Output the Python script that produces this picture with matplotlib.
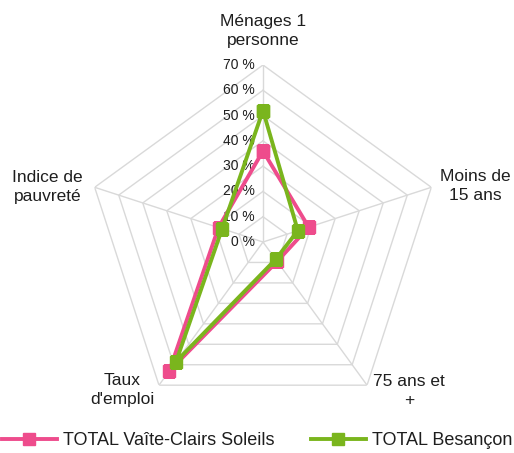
import numpy as np
import matplotlib.pyplot as plt

plt.rcParams["font.family"] = ["Liberation Sans", "DejaVu Sans"]

# Indicators on each spoke, clockwise from the top
categories = ["Ménages 1\npersonne", "Moins de\n15 ans", "75 ans et\n+",
              "Taux\nd'emploi", "Indice de\npauvreté"]
vaite = [36, 19, 9.5, 63, 18.5]      # TOTAL Vaîte-Clairs Soleils (%)
besancon = [52, 14.5, 8.5, 58.5, 17]  # TOTAL Besançon (%)
rings = [0, 10, 20, 30, 40, 50, 60, 70]

pink = "#EE4C8C"
green = "#7AB51D"
grid_col = "#D9D9D9"
text_col = "#1E1E1E"

n = len(categories)
theta = np.linspace(0, 2 * np.pi, n, endpoint=False)
closed = np.append(theta, theta[0])

fig = plt.figure(figsize=(5.14, 4.53), dpi=100)
W, H = 514, 453
cx, cy, R = 263, 242, 177
ax = fig.add_axes([(cx - R) / W, (H - cy - R) / H, 2 * R / W, 2 * R / H],
                  projection="polar")
ax.set_theta_offset(np.pi / 2)
ax.set_theta_direction(-1)
ax.set_ylim(0, 70)
ax.grid(False)
ax.spines["polar"].set_visible(False)
ax.set_xticks([])
ax.set_yticks([])
ax.patch.set_alpha(0)

# pentagon grid and spokes
for r in rings[1:]:
    ax.plot(closed, [r] * (n + 1), color=grid_col, lw=1, zorder=1)
for t in theta:
    ax.plot([t, t], [0, 70], color=grid_col, lw=1, zorder=1)

# ring labels to the left of the top spoke
for r in rings:
    ax.annotate(f"{r} %", (0, r), xytext=(-8, 0), textcoords="offset pixels",
                ha="right", va="center", fontsize=10, color=text_col)

# category labels around the outside
offsets = [(0, 34), (44, 1), (42, -6), (-37, -5), (-47, 0)]
for t, lab, off in zip(theta, categories, offsets):
    ax.annotate(lab, (t, 70), xytext=off, textcoords="offset pixels",
                ha="center", va="center", fontsize=12.5, color=text_col,
                linespacing=1.35, annotation_clip=False)

ax.plot(closed, vaite + vaite[:1], color=pink, lw=2.8, marker="s",
        markersize=8, zorder=3, label="TOTAL Vaîte-Clairs Soleils")
ax.plot(closed, besancon + besancon[:1], color=green, lw=2.8, marker="s",
        markersize=8, zorder=4, label="TOTAL Besançon")

leg = fig.legend(loc="lower center", bbox_to_anchor=(0.5, 0.0), ncol=2,
                 frameon=False, fontsize=13, handlelength=3.05,
                 handletextpad=0.35, columnspacing=2.0, borderaxespad=0.0,
                 borderpad=0.2)
for txt in leg.get_texts():
    txt.set_color(text_col)

fig.savefig("out.png", dpi=100)
